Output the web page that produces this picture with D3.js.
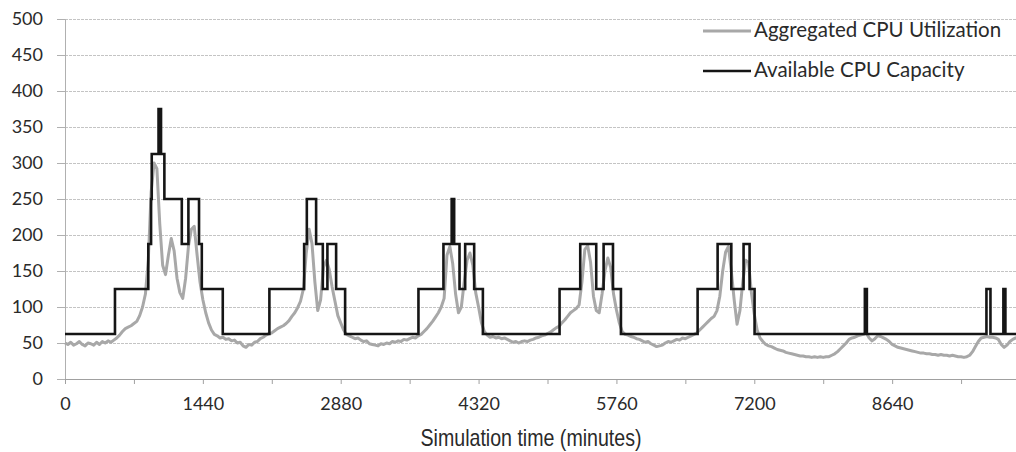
<!DOCTYPE html>
<html>
<head>
<meta charset="utf-8">
<script src="https://cdn.jsdelivr.net/npm/d3@7"></script>
<style>
  body { margin: 0; background: #fff; }
  svg { display: block; }
</style>
</head>
<body>
<div id="chart"></div>
<script>
// aggregated CPU utilization, one reading every 30 minutes (rows = 6 hours)
const utilStep = 30
const utilValues = [
  50, 48, 51, 47, 49, 52, 48, 46, 50, 49, 47, 51,
  48, 52, 50, 53, 51, 54, 57, 61, 66, 70, 72, 74,
  77, 80, 88, 100, 118, 165, 260, 300, 292, 215, 158, 145,
  172, 195, 178, 140, 120, 112, 140, 185, 208, 212, 172, 135,
  110, 92, 78, 68, 62, 60, 57, 58, 55, 56, 53, 54,
  50, 51, 46, 44, 48, 47, 51, 52, 56, 58, 61, 63,
  64, 67, 70, 72, 74, 77, 81, 87, 92, 99, 108, 125,
  175, 208, 188, 135, 95, 110, 155, 165, 152, 128, 108, 88,
  78, 68, 62, 60, 58, 56, 57, 54, 52, 53, 49, 48,
  47, 46, 49, 48, 50, 49, 52, 51, 53, 52, 55, 54,
  56, 58, 57, 60, 62, 66, 70, 75, 80, 86, 92, 100,
  112, 172, 184, 160, 118, 92, 100, 135, 165, 175, 158, 120,
  100, 78, 66, 61, 58, 59, 57, 58, 56, 57, 55, 53,
  51, 52, 50, 52, 53, 52, 54, 55, 57, 58, 60, 61,
  63, 65, 68, 71, 73, 78, 82, 87, 92, 95, 98, 103,
  135, 180, 185, 162, 115, 95, 92, 118, 150, 168, 155, 118,
  96, 78, 66, 62, 61, 59, 58, 56, 55, 53, 51, 52,
  49, 47, 45, 46, 47, 50, 52, 51, 53, 55, 54, 57,
  56, 58, 60, 62, 64, 68, 72, 76, 80, 84, 87, 95,
  115, 150, 176, 184, 150, 110, 76, 95, 135, 165, 162, 120,
  90, 68, 57, 52, 48, 46, 45, 43, 41, 40, 39, 37,
  36, 35, 34, 33, 32, 32, 31, 31, 30, 31, 30, 31,
  30, 31, 31, 33, 35, 38, 42, 46, 50, 55, 57, 58,
  60, 61, 62, 64, 57, 53, 56, 60, 59, 57, 55, 52,
  48, 46, 44, 43, 42, 41, 40, 39, 38, 37, 36, 36,
  35, 35, 34, 34, 33, 34, 33, 33, 32, 33, 32, 31,
  31, 30, 31, 33, 38, 45, 52, 57, 58, 59, 58, 58,
  57, 55, 48, 44, 47, 52, 55, 57, 58, 57, 56, 55,
  55
]

// available capacity: minute where a step starts, and its level
const capTimes = [0, 522, 870, 899, 906, 977, 1003, 1038, 1220, 1289,
  1400, 1429, 1648, 2135, 2498, 2526, 2623, 2693, 2741, 2832,
  2926, 3692, 3953, 4039, 4065, 4121, 4180, 4274, 4365, 5166,
  5382, 5549, 5626, 5724, 5807, 6608, 6817, 6960, 7088, 7151,
  7203, 8355, 8376, 9625, 9667, 9802, 9823, 10080]
const capValues = [62.5, 125, 187.5, 250, 312.5, 375, 312.5, 250, 187.5, 250,
  187.5, 125, 62.5, 125, 187.5, 250, 187.5, 125, 187.5, 125,
  62.5, 125, 187.5, 250, 187.5, 125, 187.5, 125, 62.5, 125,
  187.5, 125, 187.5, 125, 62.5, 125, 187.5, 125, 187.5, 125,
  62.5, 125, 62.5, 125, 62.5, 125, 62.5, 62.5]

const yTicks = [0, 50, 100, 150, 200, 250, 300, 350, 400, 450, 500]
const xLabelTicks = [0, 1440, 2880, 4320, 5760, 7200, 8640]
const seriesNames = ['Aggregated CPU Utilization', 'Available CPU Capacity']
const xTitle = 'Simulation time (minutes)'

const width = 1016
const height = 452
const margin = { top: 19, left: 65, right: -14, bottom: 73 }

const svg = d3
  .select('#chart')
  .append('svg')
  .attr('width', width)
  .attr('height', height)

const xScale = d3.scaleLinear().domain([0, 10080]).range([margin.left, width - margin.right])
const yScale = d3.scaleLinear().domain([0, 500]).range([height - margin.bottom, margin.top])

// gridlines
svg
  .append('g')
  .attr('class', 'grid')
  .attr('transform', `translate(${margin.left},0)`)
  .call(
    d3.axisLeft(yScale)
      .tickValues(yTicks.slice(1))
      .tickSize(-(width - margin.left))
      .tickFormat('')
  )
  .call(g => g.select('.domain').remove())
  .call(g => g.selectAll('line').attr('stroke', '#c4c4c4').attr('stroke-dasharray', '3,1'))

// y axis
svg
  .append('g')
  .attr('transform', `translate(${margin.left},0)`)
  .call(d3.axisLeft(yScale).tickValues(yTicks).tickSize(8).tickPadding(14))
  .call(g => g.select('.domain').attr('stroke', '#b0b0b0'))
  .call(g => g.selectAll('line').attr('stroke', '#b0b0b0'))
  .call(g => g.selectAll('text')
    .attr('font-family', 'Lato, sans-serif')
    .attr('font-size', 18)
    .attr('fill', '#2a2a2a'))

// x axis
const xTickValues = d3.range(0, 10081, 720)
svg
  .append('g')
  .attr('transform', `translate(0,${yScale(0)})`)
  .call(
    d3.axisBottom(xScale)
      .tickValues(xTickValues)
      .tickSize(5)
      .tickPadding(13)
      .tickFormat(d => (xLabelTicks.includes(d) ? d : ''))
  )
  .call(g => g.select('.domain').attr('stroke', '#a0a0a0'))
  .call(g => g.selectAll('line').attr('stroke', '#a0a0a0'))
  .call(g => g.selectAll('text')
    .attr('font-family', 'Lato, sans-serif')
    .attr('font-size', 18)
    .attr('fill', '#2a2a2a'))

svg
  .append('text')
  .attr('x', 531)
  .attr('y', 446)
  .attr('text-anchor', 'middle')
  .attr('font-family', '"Liberation Sans", Arial, sans-serif')
  .attr('font-size', 24)
  .attr('textLength', 221)
  .attr('lengthAdjust', 'spacingAndGlyphs')
  .attr('fill', '#2a2a2a')
  .text(xTitle)

// series
const utilData = utilValues.map((v, i) => ({ t: i * utilStep, v: v }))
const capData = capTimes.map((t, i) => ({ t: t, v: capValues[i] }))

const utilLine = d3.line().x(d => xScale(d.t)).y(d => yScale(d.v))
const capLine = d3.line().x(d => xScale(d.t)).y(d => yScale(d.v)).curve(d3.curveStepAfter)

svg
  .append('path')
  .datum(utilData)
  .attr('d', utilLine)
  .attr('fill', 'none')
  .attr('stroke', '#a8a8a8')
  .attr('stroke-width', 3)
  .attr('stroke-linejoin', 'round')

svg
  .append('path')
  .datum(capData)
  .attr('d', capLine)
  .attr('fill', 'none')
  .attr('stroke', '#151515')
  .attr('stroke-width', 2.6)

// legend
const legendColors = ['#a8a8a8', '#151515']
const legend = svg
  .selectAll('.legend')
  .data(seriesNames)
  .enter()
  .append('g')
  .attr('class', 'legend')
  .attr('transform', (d, i) => `translate(703,${31 + i * 40})`)

legend
  .append('line')
  .attr('x1', 0)
  .attr('x2', 48)
  .attr('stroke', (d, i) => legendColors[i])
  .attr('stroke-width', (d, i) => (i === 0 ? 3 : 2.6))

legend
  .append('text')
  .attr('x', 51)
  .attr('y', 6)
  .attr('font-family', 'Lato, sans-serif')
  .attr('font-size', 20.5)
  .attr('fill', '#2a2a2a')
  .text(d => d)
</script>
</body>
</html>
